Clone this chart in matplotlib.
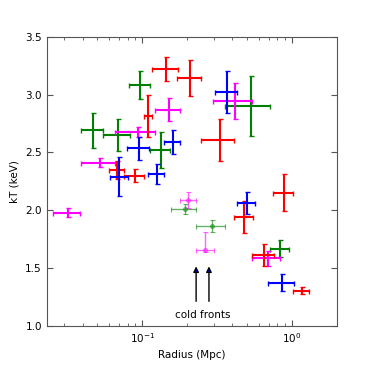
import numpy as np
import matplotlib
matplotlib.use("Agg")
import matplotlib.pyplot as plt

# red profile
red_r = [0.145, 0.208, 0.109, 0.068, 0.089, 0.329, 0.887, 0.48, 0.652, 1.16]
red_kt = [3.22, 3.14, 2.815, 2.35, 2.30, 2.61, 2.15, 1.94, 1.61, 1.305]
red_rerr = [0.029, 0.037, 0.007, 0.0077, 0.014, 0.081, 0.134, 0.072, 0.107, 0.143]
red_kterr = [0.105, 0.155, 0.185, 0.08, 0.053, 0.18, 0.16, 0.14, 0.095, 0.03]

# green profile
green_r = [0.047, 0.0686, 0.097, 0.133, 0.535, 0.835]
green_kt = [2.69, 2.65, 3.08, 2.52, 2.90, 1.67]
green_rerr = [0.008, 0.0136, 0.015, 0.021, 0.18, 0.122]
green_kterr = [0.15, 0.137, 0.12, 0.154, 0.26, 0.076]

# blue profile
blue_r = [0.0704, 0.095, 0.125, 0.16, 0.369, 0.50, 0.862]
blue_kt = [2.29, 2.535, 2.31, 2.59, 3.02, 2.065, 1.375]
blue_rerr = [0.0093, 0.016, 0.015, 0.02, 0.063, 0.068, 0.175]
blue_kterr = [0.17, 0.098, 0.086, 0.10, 0.18, 0.094, 0.075]

# magenta profile
mag_r = [0.0319, 0.0524, 0.094, 0.15, 0.418, 0.688]
mag_kt = [1.98, 2.41, 2.676, 2.87, 2.945, 1.585]
mag_rerr = [0.0067, 0.0136, 0.028, 0.028, 0.12, 0.143]
mag_kterr = [0.04, 0.04, 0.045, 0.10, 0.155, 0.065]

# cold front regions
cf_green_r = [0.192, 0.292]
cf_green_kt = [2.01, 1.865]
cf_green_rerr = [0.0375, 0.063]
cf_green_kterr = [0.045, 0.048]

cf_mag_r = [0.203, 0.264]
cf_mag_kt = [2.09, 1.656]
cf_mag_rerr = [0.024, 0.037]
cf_mag_kterr_lo = [0.068, 0.02]
cf_mag_kterr_hi = [0.068, 0.16]

arrow_r = [0.229, 0.279]

plt.rcParams['font.size'] = 7.5

fig = plt.figure(figsize=(3.74, 3.74), dpi=100)
ax = fig.add_axes([0.125, 0.128, 0.776, 0.774])

opts = dict(fmt='none', elinewidth=1.5, capsize=1.8, capthick=1.0)
ax.errorbar(green_r, green_kt, xerr=green_rerr, yerr=green_kterr, ecolor='#008000', **opts)
ax.errorbar(mag_r, mag_kt, xerr=mag_rerr, yerr=mag_kterr, ecolor='#ff00ff', **opts)
ax.errorbar(red_r, red_kt, xerr=red_rerr, yerr=red_kterr, ecolor='#ff0000', **opts)
ax.errorbar(blue_r, blue_kt, xerr=blue_rerr, yerr=blue_kterr, ecolor='#0000ff', **opts)

ax.errorbar(cf_green_r, cf_green_kt, xerr=cf_green_rerr, yerr=cf_green_kterr,
            fmt='o', ms=2.5, color='#008000', mfc='none', elinewidth=1.0,
            capsize=1.8, capthick=0.8, alpha=0.6)
ax.errorbar(cf_mag_r, cf_mag_kt, xerr=cf_mag_rerr,
            yerr=[cf_mag_kterr_lo, cf_mag_kterr_hi],
            fmt='o', ms=2.5, color='#ff00ff', mfc='none', elinewidth=1.0,
            capsize=1.8, capthick=0.8, alpha=0.6)

for r in arrow_r:
    ax.annotate('', xy=(r, 1.54), xytext=(r, 1.19),
                arrowprops=dict(arrowstyle='-|>', fc='blue', ec='black',
                                lw=1.0, mutation_scale=8))
ax.text(np.sqrt(arrow_r[0] * arrow_r[1]), 1.10, 'cold fronts',
        ha='center', va='center', fontsize=7.5)

ax.set_xscale('log')
ax.set_xlim(0.023, 2.0)
ax.set_ylim(1.0, 3.5)
ax.set_yticks([1.0, 1.5, 2.0, 2.5, 3.0, 3.5])
ax.set_xlabel('Radius (Mpc)')
ax.set_ylabel('kT (keV)')

ax.tick_params(which='both', direction='in', top=True, right=True, colors='#555555',
               labelcolor='black')
ax.tick_params(which='major', length=4)
ax.tick_params(which='minor', length=2)
for s in ax.spines.values():
    s.set_color('#555555')

fig.savefig('out.png', dpi=100)
